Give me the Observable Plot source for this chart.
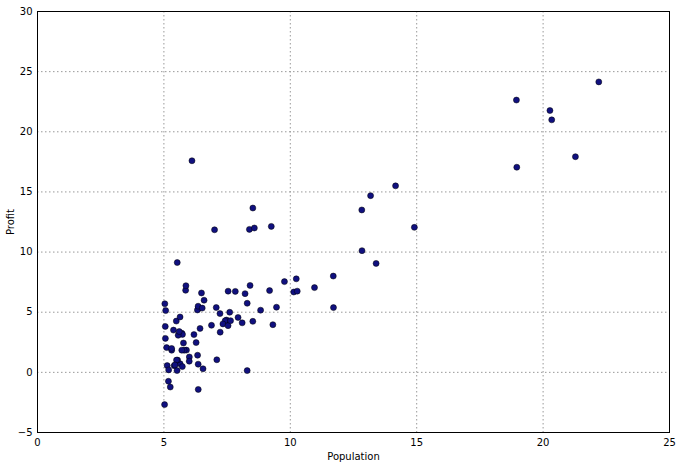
<!DOCTYPE html>
<html><head><meta charset="utf-8">
<script src="https://cdn.jsdelivr.net/npm/d3@7"></script>
<script src="https://cdn.jsdelivr.net/npm/@observablehq/plot@0.6"></script>
<style>body{margin:0;background:#fff;} svg{font-family:"DejaVu Sans",sans-serif;}</style>
</head><body><div id="chart"></div>
<script>
const population = [6.1101,5.5277,8.5186,7.0032,5.8598,8.3829,7.4764,8.5781,6.4862,5.0546,5.7107,14.164,5.734,8.4084,5.6407,5.3794,6.3654,5.1301,6.4296,7.0708,6.1891,20.27,5.4901,6.3261,5.5649,18.945,12.828,10.957,13.176,22.203,5.2524,6.5894,9.2482,5.8918,8.2111,7.9334,8.0959,5.6063,12.836,6.3534,5.4069,6.8825,11.708,5.7737,7.8247,7.0931,5.0702,5.8014,11.7,5.5416,7.5402,5.3077,7.4239,7.6031,6.3328,6.3589,6.2742,5.6397,9.3102,9.4536,8.8254,5.1793,21.279,14.908,18.959,7.2182,8.2951,10.236,5.4994,20.341,10.136,7.3345,6.0062,7.2259,5.0269,6.5479,7.5386,5.0365,10.274,5.1077,5.7292,5.1884,6.3557,9.7687,6.5159,8.5172,9.1802,6.002,5.5204,5.0594,5.7077,7.6366,5.8707,5.3054,8.2934,13.394,5.4369];
const profit = [17.592,9.1302,13.662,11.854,6.8233,11.886,4.3483,12,6.5987,3.8166,3.2522,15.505,3.1551,7.2258,0.71618,3.5129,5.3048,0.56077,3.6518,5.3893,3.1386,21.767,4.263,5.1875,3.0825,22.638,13.501,7.0467,14.692,24.147,-1.22,5.9966,12.134,1.8495,6.5426,4.5623,4.1164,3.3928,10.117,5.4974,0.55657,3.9115,5.3854,2.4406,6.7318,1.0463,5.1337,1.844,8.0043,1.0179,6.7504,1.8396,4.2885,4.9981,1.4233,-1.4211,2.4756,4.6042,3.9624,5.4141,5.1694,-0.74279,17.929,12.054,17.054,4.8852,5.7442,7.7754,1.0173,20.992,6.6799,4.0259,1.2784,3.3411,-2.6807,0.29678,3.8845,5.7014,6.7526,2.0576,0.47953,0.20421,0.67861,7.5435,5.3436,4.2415,6.7981,0.92695,0.152,2.8214,1.8451,4.2959,7.2029,1.9869,0.14454,9.0551,0.61705];
const xTicks = [0,5,10,15,20,25];
const yTicks = [-5,0,5,10,15,20,25,30];

const data = population.map((p,i)=>({population:p, profit:profit[i]}));

const chart = Plot.plot({
  width: 680, height: 466,
  marginLeft: 37, marginRight: 11, marginTop: 11, marginBottom: 34,
  style: {fontFamily: '"DejaVu Sans", sans-serif', fontSize: "10px", color: "#000", background: "#fff"},
  x: {domain: [0,25], ticks: xTicks, tickSize: 0, tickPadding: 6, label: "Population", labelAnchor: "center", labelArrow: "none", labelOffset: 27},
  y: {domain: [-5,30], ticks: yTicks, tickSize: 0, tickPadding: 5, label: "Profit", labelAnchor: "center", labelArrow: "none", labelOffset: 31},
  marks: [
    Plot.ruleX(xTicks, {stroke: "#999", strokeDasharray: "1.5,2.5", strokeWidth: 1}),
    Plot.ruleY(yTicks, {stroke: "#999", strokeDasharray: "1.5,2.5", strokeWidth: 1}),
    Plot.dot(data, {x: "population", y: "profit", r: 3, fill: "#10107f", stroke: "#000", strokeWidth: 0.5, fillOpacity: 1}),
    Plot.frame({stroke: "#000", strokeWidth: 1})
  ]
});
document.getElementById("chart").appendChild(chart);
</script>
</body></html>
